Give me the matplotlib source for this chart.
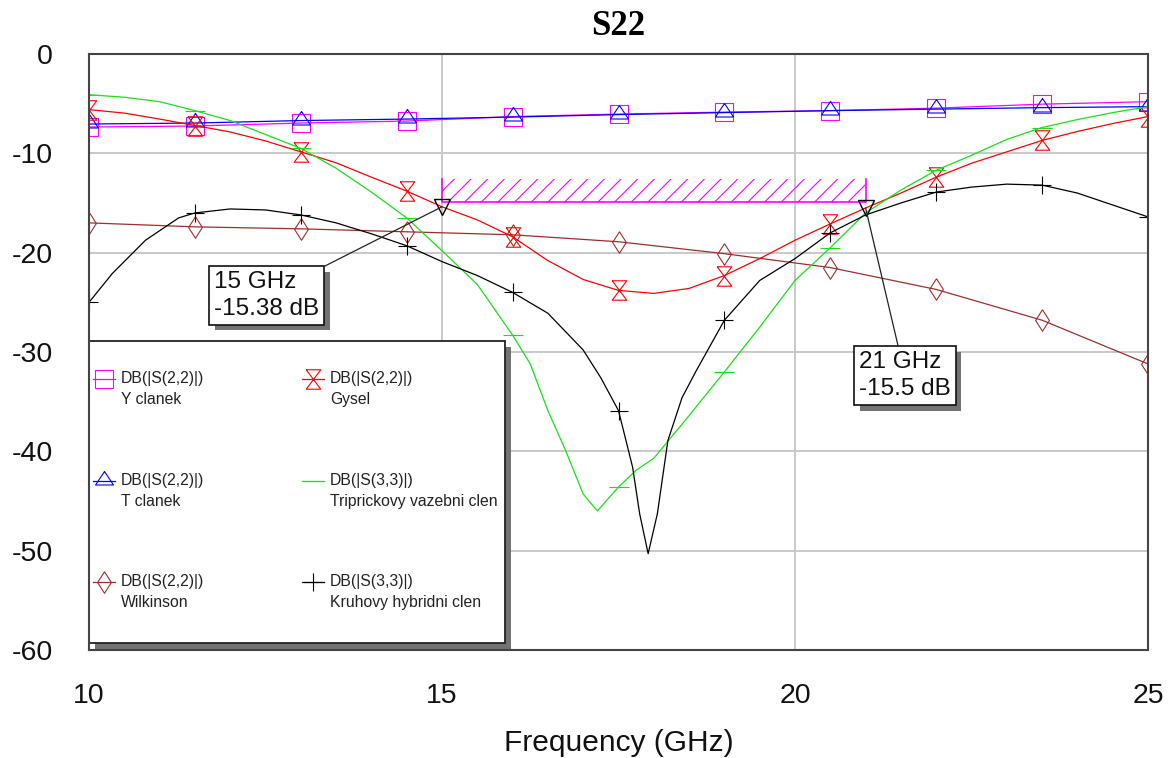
import numpy as np
import matplotlib
matplotlib.use("Agg")
import matplotlib.pyplot as plt
from matplotlib.lines import Line2D
from matplotlib.patches import Rectangle
import matplotlib.patheffects as pe

plt.rcParams['font.family'] = ['Liberation Sans', 'DejaVu Sans']
plt.rcParams['axes.unicode_minus'] = False
plt.rcParams['hatch.linewidth'] = 0.8

# ---------------------------------------------------------------- data
title = 'S22'
x_label = 'Frequency (GHz)'
x_ticks = [10, 15, 20, 25]
y_ticks = [0, -10, -20, -30, -40, -50, -60]
marker_step = 1.5  # symbol spacing along every trace (GHz)

# Y clanek, DB(|S(2,2)|)
f_yclanek = [10, 11.5, 13, 14.5, 16, 17.5, 19, 20.5, 22, 23.5, 25]
db_yclanek = [-7.35, -7.25, -6.95, -6.75, -6.3, -6.05, -5.85, -5.7, -5.45, -5.05, -4.8]

# T clanek, DB(|S(2,2)|)
f_tclanek = [10, 11.5, 13, 14.5, 16, 17.5, 19, 20.5, 22, 23.5, 25]
db_tclanek = [-7.05, -6.95, -6.7, -6.55, -6.35, -6.1, -5.9, -5.7, -5.55, -5.4, -5.3]

# Wilkinson, DB(|S(2,2)|)
f_wilkinson = [10, 11.5, 13, 14.5, 16, 17.5, 19, 20.5, 22, 23.5, 25]
db_wilkinson = [-17.0, -17.4, -17.6, -17.9, -18.2, -18.9, -20.1, -21.5, -23.7, -26.8, -31.2]

# Gysel, DB(|S(2,2)|)
f_gysel = [10, 10.5, 11, 11.5, 12, 12.5, 13, 13.5, 14, 14.5, 15, 15.5, 16, 16.5,
           17, 17.5, 18, 18.5, 19, 19.5, 20, 20.5, 21, 21.5, 22, 22.5, 23, 23.5,
           24, 24.5, 25]
db_gysel = [-5.6, -5.95, -6.55, -7.2, -7.85, -8.75, -9.85, -10.95, -12.4, -13.8,
            -15.38, -16.7, -18.4, -20.8, -22.7, -23.8, -24.1, -23.6, -22.3, -20.6,
            -18.75, -17.1, -15.5, -14.0, -12.4, -11.0, -9.85, -8.7, -7.8, -7.0, -6.3]

# Triprickovy vazebni clen, DB(|S(3,3)|)
f_tri = [10, 10.5, 11, 11.5, 12, 12.5, 13, 13.5, 14, 14.5, 15, 15.5, 16, 16.25,
         16.5, 16.75, 17, 17.2, 17.5, 17.75, 18, 18.5, 19, 19.5, 20, 20.5, 21,
         21.5, 22, 22.5, 23, 23.5, 24, 24.5, 25]
db_tri = [-4.1, -4.35, -4.8, -5.7, -6.7, -8.1, -9.5, -11.5, -13.9, -16.5, -19.8,
          -23.2, -28.3, -31.2, -35.9, -39.9, -44.3, -46.0, -43.6, -41.9, -40.7,
          -36.4, -32.0, -27.5, -22.8, -19.5, -16.0, -13.7, -11.7, -10.2, -8.6,
          -7.4, -6.6, -5.9, -5.3]

# Kruhovy hybridni clen, DB(|S(3,3)|)
f_kruh = [10, 10.33, 10.8, 11.27, 11.5, 12, 12.5, 13, 13.5, 14, 14.5, 15, 15.5,
          16, 16.5, 17, 17.25, 17.5, 17.7, 17.8, 17.92, 18.05, 18.2, 18.4, 18.6,
          19, 19.5, 20, 20.5, 21, 21.5, 22, 22.5, 23, 23.5, 24, 24.5, 25]
db_kruh = [-25.0, -22.1, -18.75, -16.5, -16.0, -15.6, -15.7, -16.2, -17.0, -18.1,
           -19.3, -20.9, -22.3, -24.0, -26.1, -29.8, -32.6, -35.9, -41.6, -46.3,
           -50.3, -46.3, -38.9, -34.6, -31.9, -26.8, -22.8, -20.6, -18.0, -16.2,
           -15.0, -13.9, -13.4, -13.1, -13.2, -14.0, -15.2, -16.4]

# Pass-band goal line (hatched) and the two readout markers on the Gysel trace
goal_f = [15, 21]
goal_db = -14.9
goal_hatch_top = -12.55
readout_f = [15, 21]
readout_db = [-15.38, -15.5]

# ---------------------------------------------------------------- styles
hourglass = [(-0.75, 1), (0.75, 1), (-0.75, -1), (0.75, -1), (-0.75, 1)]
tall_diamond = [(0, 1), (0.64, 0), (0, -1), (-0.64, 0), (0, 1)]
up_triangle = [(0, 1), (-0.9, -0.35), (0.9, -0.35), (0, 1)]

series = [
    dict(f=f_yclanek, db=db_yclanek, color='#FF00FF', marker='s', ms=13,
         meas='DB(|S(2,2)|)', name='Y clanek'),
    dict(f=f_tclanek, db=db_tclanek, color='#0000FF', marker=up_triangle, ms=14.4,
         meas='DB(|S(2,2)|)', name='T clanek'),
    dict(f=f_wilkinson, db=db_wilkinson, color='#9E2E2E', marker=tall_diamond, ms=15.5,
         meas='DB(|S(2,2)|)', name='Wilkinson'),
    dict(f=f_gysel, db=db_gysel, color='#FF0000', marker=hourglass, ms=14,
         meas='DB(|S(2,2)|)', name='Gysel'),
    dict(f=f_tri, db=db_tri, color='#18E018', marker='_', ms=14,
         meas='DB(|S(3,3)|)', name='Triprickovy vazebni clen'),
    dict(f=f_kruh, db=db_kruh, color='#000000', marker='+', ms=12.5,
         meas='DB(|S(3,3)|)', name='Kruhovy hybridni clen'),
]

W, H = 1173, 758
fig = plt.figure(figsize=(W / 100, H / 100), dpi=100)
ax = fig.add_axes([89 / W, 1 - 650 / H, 1059 / W, 596 / H])

ax.set_xlim(10, 25)
ax.set_ylim(-60, 0)
ax.set_xticks(x_ticks)
ax.set_yticks(y_ticks)
ax.grid(True, color='#c8c8c8', lw=1.4)
ax.set_axisbelow(True)
for sp in ax.spines.values():
    sp.set_color('#444444')
    sp.set_linewidth(1.5)
    sp.set_zorder(10)
ax.tick_params(axis='both', length=0, labelsize=20.5, labelcolor='#111111')
ax.tick_params(axis='x', pad=24)
ax.tick_params(axis='y', pad=26)
ax.set_xlabel(x_label, fontsize=21.5, labelpad=14, color='#111111')
ax.set_title(title, fontfamily=['Liberation Serif', 'DejaVu Serif'],
             fontweight='bold', fontsize=25, pad=14)


def marker_indices(freqs):
    fr = (np.asarray(freqs, dtype=float) - freqs[0]) / marker_step
    return [i for i, v in enumerate(fr) if abs(v - round(v)) < 1e-6]


for s in series:
    ax.plot(s['f'], s['db'], color=s['color'], lw=0.9, marker=s['marker'],
            ms=s['ms'], mfc='none', mec=s['color'], mew=0.8,
            markevery=marker_indices(s['f']), zorder=3)

# Goal line with hatching above it
ax.fill_between(goal_f, goal_db, goal_hatch_top, facecolor='none',
                edgecolor='#FF00FF', hatch='//', linewidth=0, zorder=2)
ax.plot([goal_f[0], goal_f[0], goal_f[1], goal_f[1]],
        [goal_hatch_top, goal_db, goal_db, goal_hatch_top],
        color='#FF00FF', lw=1.2, zorder=2)

# Readout markers with their boxed labels
ax.plot(readout_f, readout_db, 'v', mfc='none', mec='black', ms=12, mew=1.0,
        zorder=6)
label_pos = [(12.52, -24.3), (21.56, -32.4)]
shadow = [pe.withSimplePatchShadow(offset=(4, -4), shadow_rgbFace='#737373', alpha=1.0)]
for f, db, pos in zip(readout_f, readout_db, label_pos):
    ax.annotate(f'{f:g} GHz\n{db:g} dB', xy=(f, db), xytext=pos,
                textcoords='data', ha='center', va='center',
                multialignment='left', fontsize=17.5, linespacing=1.3,
                color='#111111', zorder=7,
                bbox=dict(boxstyle='square,pad=0.2', fc='white', ec='#111111',
                          lw=1.2, path_effects=shadow),
                arrowprops=dict(arrowstyle='-', color='#222222', lw=0.9,
                                shrinkA=0, shrinkB=0))

# Legend panel: two columns of three entries
box = Rectangle((0.0, 0.0117), 0.3928, 0.5068, transform=ax.transAxes,
                facecolor='white', edgecolor='#222222', lw=1.3, zorder=8,
                clip_on=False,
                path_effects=[pe.withSimplePatchShadow(offset=(4.5, -4.5),
                                                       shadow_rgbFace='#737373',
                                                       alpha=1.0)])
ax.add_patch(box)
col_handle_x = [0.0142, 0.2115]
col_text_x = [0.0302, 0.2276]
row_y = [0.4547, 0.2836, 0.1141]
line_gap = 0.0352
half_len = 0.0104
for i, s in enumerate(series):
    c, r = divmod(i, 3)
    hx, tx, ry = col_handle_x[c], col_text_x[c], row_y[r]
    ax.add_line(Line2D([hx - half_len, hx + half_len], [ry, ry],
                       transform=ax.transAxes, color=s['color'], lw=0.9,
                       zorder=9, clip_on=False))
    ax.add_line(Line2D([hx], [ry], transform=ax.transAxes, marker=s['marker'],
                       ms=s['ms'], mfc='none', mec=s['color'], mew=0.8,
                       linestyle='none', zorder=9, clip_on=False))
    ax.text(tx, ry, s['meas'], transform=ax.transAxes, fontsize=11.3,
            va='center', ha='left', color='#222222', zorder=9)
    ax.text(tx, ry - line_gap, s['name'], transform=ax.transAxes, fontsize=11.3,
            va='center', ha='left', color='#222222', zorder=9)

fig.savefig('out.png', dpi=100)
